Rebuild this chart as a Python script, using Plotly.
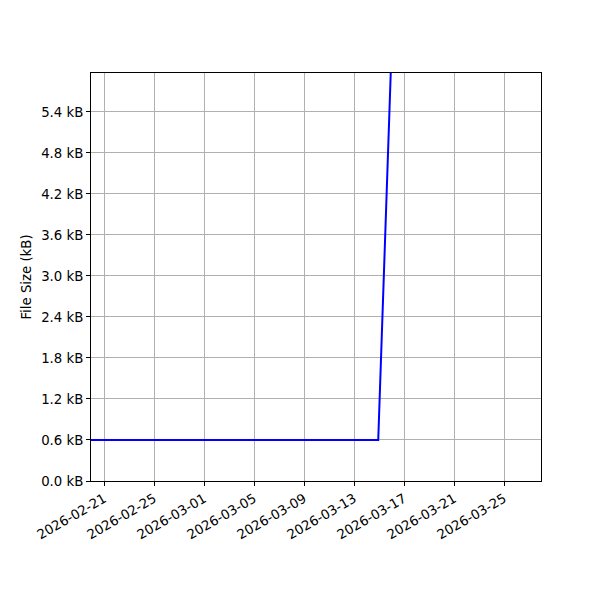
import plotly.graph_objects as go

dates = ["2026-02-19 23:00", "2026-03-14 22:30", "2026-03-15 22:30"]
sizes_kb = [0.6, 0.6, 5.97]

x_ticks = ["2026-02-21", "2026-02-25", "2026-03-01", "2026-03-05", "2026-03-09",
           "2026-03-13", "2026-03-17", "2026-03-21", "2026-03-25"]
y_ticks = [0.0, 0.6, 1.2, 1.8, 2.4, 3.0, 3.6, 4.2, 4.8, 5.4]
y_labels = [f"{v:.1f} kB" for v in y_ticks]

fig = go.Figure()
fig.add_trace(go.Scatter(x=dates, y=sizes_kb, mode="lines",
                         line=dict(color="#0000ff", width=2), showlegend=False))

axis_common = dict(showline=True, linecolor="black", linewidth=1, mirror=True,
                   ticks="outside", ticklen=4, tickcolor="black", automargin=False,
                   showgrid=True, gridcolor="#b0b0b0", gridwidth=1, zeroline=False,
                   tickfont=dict(family="DejaVu Sans", size=13.3, color="black"))

fig.update_layout(
    width=600, height=600,
    margin=dict(l=83, r=67, t=65, b=127),
    paper_bgcolor="white", plot_bgcolor="white",
    font=dict(family="DejaVu Sans", size=13.3, color="black"),
    xaxis=dict(range=["2026-02-19 23:00", "2026-03-27 23:00"], type="date",
               tickvals=x_ticks, ticktext=x_ticks, tickangle=-30, **axis_common),
    yaxis=dict(range=[0, 5.97], tickvals=y_ticks, ticktext=y_labels,
               title=dict(text="File Size (kB)", font=dict(size=13.3), standoff=6),
               **axis_common),
)

fig.write_html("out.html")
